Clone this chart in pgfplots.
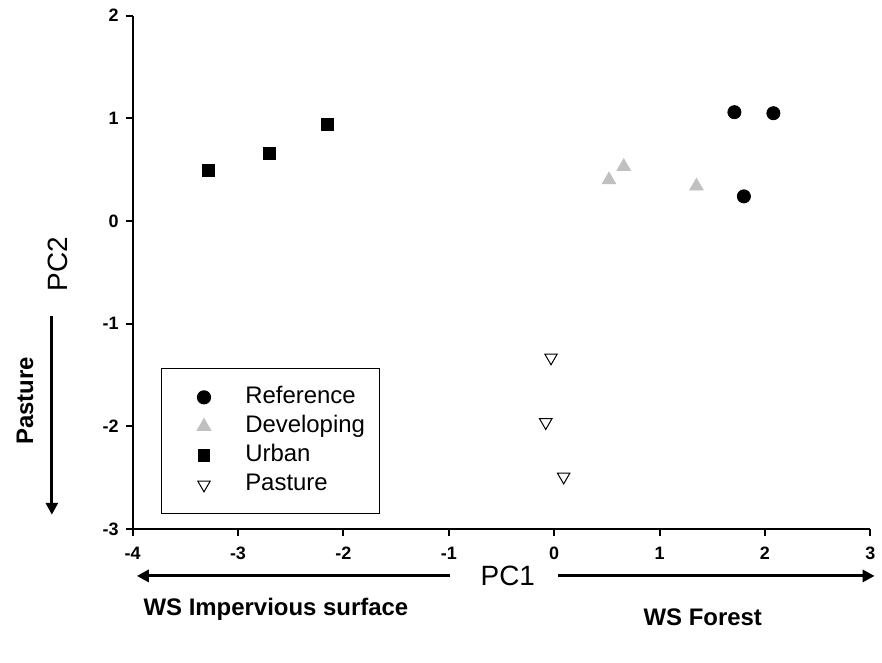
\documentclass[border=0pt]{standalone}
\usepackage{fontspec}
\setmainfont{Liberation Sans}
\usepackage{pgfplots}
\pgfplotsset{compat=1.18}
\usetikzlibrary{arrows.meta}
\definecolor{devgray}{RGB}{192,192,192}
% legend image: mark placed further in from the box edge
\pgfplotsset{lmark/.style={legend image code/.code={%
  \path[draw=none,fill=none] (0pt,0pt) -- (32pt,0pt);
  \draw[mark repeat=2,mark phase=2] plot coordinates {(0pt,0pt)(16pt,0pt)(32pt,0pt)};}}}

\begin{document}
\begin{tikzpicture}
% invisible frame: keeps the page at the reference proportions
\path (-66.5pt,7.85pt) rectangle (374.5pt,-324.15pt);
\begin{axis}[
  at={(0pt,0pt)},anchor=north west,
  scale only axis,
  width=370pt,height=257.5pt,
  axis lines*=left,
  xmin=-4,xmax=3,ymin=-3,ymax=2,
  xtick={-4,...,3},ytick={-3,...,2},
  tick align=outside,
  major tick length=3.5pt,
  axis line style={line width=1pt},
  every tick/.style={black,line width=1pt},
  /pgf/number format/assume math mode=true,
  ticklabel style={font=\bfseries\fontsize{9}{10}\selectfont},
  xticklabel style={yshift=-2pt},
  clip=false,
  legend style={at={(0.038,0.03)},anchor=south west,draw=black,line width=0.5pt,
    font=\fontsize{12}{14}\selectfont,inner xsep=5.5pt,inner ysep=7pt,
    row sep=0pt,
    nodes={text height=8.5pt,text depth=2.5pt,inner ysep=1.8pt},
    /tikz/every odd column/.append style={column sep=2.7pt}},
  legend cell align=left,
]
\addplot[only marks,lmark,mark=*,mark size=3.3pt,black] coordinates {
  (1.71,1.06) (2.08,1.05) (1.80,0.24)};
\addlegendentry{Reference}
\addplot[only marks,lmark,mark=triangle*,mark size=3.9pt,devgray] coordinates {
  (0.66,0.53) (0.52,0.40) (1.35,0.34)};
\addlegendentry{Developing}
\addplot[only marks,lmark,mark=square*,mark size=3pt,black] coordinates {
  (-3.28,0.49) (-2.70,0.66) (-2.15,0.94)};
\addlegendentry{Urban}
\addplot[only marks,lmark,mark=triangle,mark size=3.6pt,black,mark options={rotate=180,line width=0.5pt}] coordinates {
  (-0.03,-1.33) (-0.08,-1.96) (0.09,-2.49)};
\addlegendentry{Pasture}

% axis annotations
\draw[line width=1.5pt,-{Triangle[length=6pt,width=6pt]}] (axis cs:-0.985,-3.456) -- (axis cs:-3.96,-3.456);
\draw[line width=1.5pt,-{Triangle[length=6pt,width=6pt]}] (axis cs:0.036,-3.456) -- (axis cs:3.04,-3.456);
\node[font=\fontsize{14}{16}\selectfont] at (axis cs:-0.44,-3.456) {PC1};
\node[font=\bfseries\fontsize{12}{14}\selectfont] at (axis cs:-2.64,-3.78) {WS Impervious surface};
\node[font=\bfseries\fontsize{12}{14}\selectfont] at (axis cs:1.41,-3.86) {WS Forest};
\draw[line width=1.5pt,-{Triangle[length=6pt,width=6pt]}] (axis cs:-4.766,-0.92) -- (axis cs:-4.766,-2.86);
\node[rotate=90,font=\fontsize{14}{16}\selectfont] at (axis cs:-4.71,-0.42) {PC2};
\node[rotate=90,font=\bfseries\fontsize{12}{14}\selectfont] at (axis cs:-5.02,-1.75) {Pasture};
\end{axis}
\end{tikzpicture}
\end{document}
